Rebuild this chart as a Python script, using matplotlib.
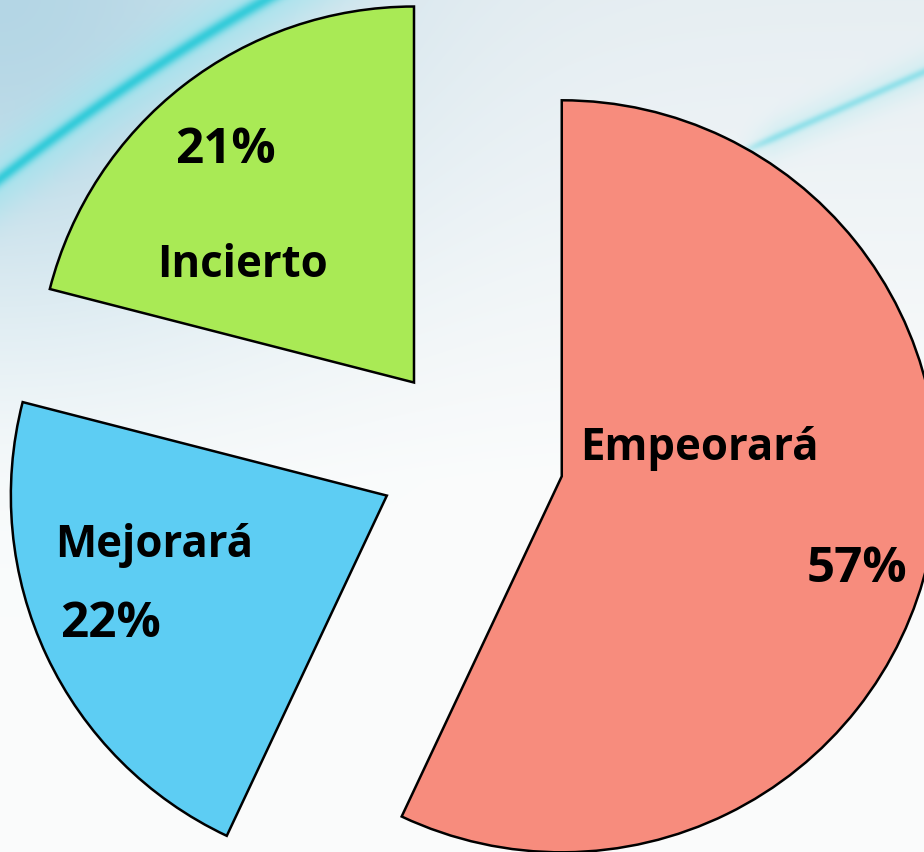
import numpy as np
import matplotlib.pyplot as plt

labels = ["Empeorará", "Mejorará", "Incierto"]
values = [57, 22, 21]
pct_labels = ["57%", "22%", "21%"]
colors = ["#F78C7D", "#5DCDF3", "#A9EA55"]

W, H = 924, 852
fig = plt.figure(figsize=(W / 100, H / 100), dpi=100)
ax = fig.add_axes([0, 0, 1, 1])

# soft wavy background (decoration only)
yy, xx = np.mgrid[0:H, 0:W].astype(float)
white = np.array([251, 252, 252.0])
bg = np.ones((H, W, 3)) * white
def blend(img, col, w):
    w = np.clip(w, 0, 1)[..., None]
    return img * (1 - w) + np.array(col, float) * w
bg = blend(bg, (226, 235, 240), 0.8 * np.clip(1 - yy / 480, 0, 1))
bg = blend(bg, (175, 212, 228), 0.9 * np.exp(-(xx / 330) ** 2 - (yy / 300) ** 2))
curve = 178 - 0.78 * xx + 0.0004 * xx ** 2
d = (yy - curve) * 0.8
bg = blend(bg, (160, 228, 238), 0.75 * np.exp(-(d / 30) ** 2) * (xx < 420))
bg = blend(bg, (35, 200, 215), 0.85 * np.exp(-(d / 6) ** 2) * (xx < 420))
streak = 150 - 0.44 * (xx - 745)
ds = (yy - streak) * 0.9
bg = blend(bg, (80, 210, 225), 0.8 * np.exp(-(ds / 4) ** 2) * np.clip((xx - 735) / 40, 0, 1))
bg = blend(bg, (190, 235, 240), 0.5 * np.exp(-(ds / 18) ** 2) * np.clip((xx - 735) / 40, 0, 1))
ax.imshow(bg.astype(np.uint8), extent=(0, W, 0, H), origin="upper", zorder=0)

wedges, _ = ax.pie(values, colors=colors, startangle=90, counterclock=False,
                   explode=[93, 93, 93], center=(471, 396), radius=376, frame=True,
                   wedgeprops=dict(edgecolor="black", linewidth=1.8, zorder=2))

# label placement: (name x, name y, pct x, pct y) in pixels, y up
label_pos = [(580, 392, 807, 270), (55, 295, 60, 215), (157, 575, 175, 689)]
for name, pct, (nx, ny, px, py) in zip(labels, pct_labels, label_pos):
    ax.text(nx, ny, name, ha="left", va="baseline", fontsize=31.5,
            fontweight="bold", family="Open Sans", zorder=3)
    ax.text(px, py, pct, ha="left", va="baseline", fontsize=35.5,
            fontweight="bold", family="Open Sans", zorder=3)

ax.set_xlim(0, W)
ax.set_ylim(0, H)
ax.set_aspect("auto")
ax.axis("off")
fig.savefig("out.png", dpi=100)
